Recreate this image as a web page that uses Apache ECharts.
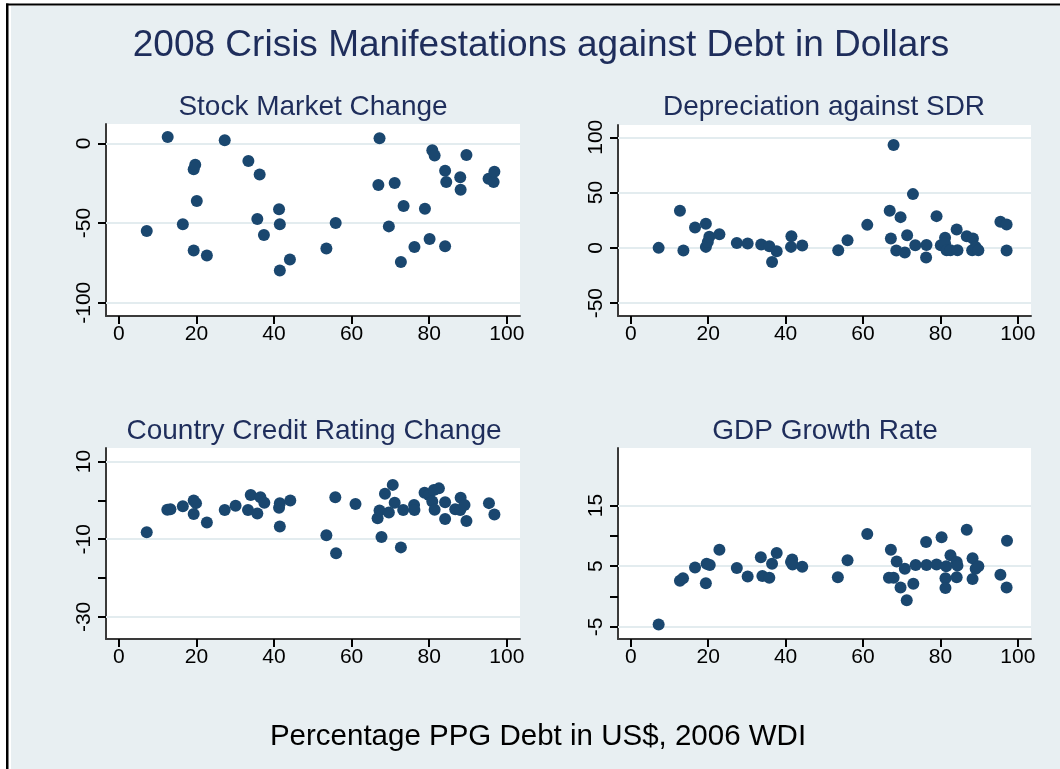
<!DOCTYPE html>
<html>
<head>
<meta charset="utf-8">
<script src="https://cdn.jsdelivr.net/npm/echarts@6/dist/echarts.min.js"></script>
<style>html,body{margin:0;padding:0;background:#fff;}#main{width:1060px;height:769px;}</style>
</head>
<body>
<div id="main"></div>
<script>
// ---- Data (x = Percentage PPG Debt in US$, 2006 WDI) ----
const stockMarket = [
  [7.2,-55.0],[12.6,4.0],[16.5,-50.8],[19.3,-16.3],[19.7,-13.4],[19.3,-67.2],[20.1,-36.2],
  [22.7,-70.3],[27.3,1.9],[33.4,-11.1],[35.7,-47.5],[36.3,-19.5],[37.4,-57.5],[41.3,-41.4],
  [41.5,-50.8],[41.5,-79.7],[44.1,-72.8],[53.5,-65.9],[55.9,-50.0],[67.2,3.1],[66.9,-26.2],
  [71.1,-24.9],[69.6,-52.1],[72.7,-74.5],[73.4,-39.3],[76.2,-65.1],[78.9,-41.0],[80.1,-60.0],
  [80.8,-4.4],[81.4,-7.7],[84.1,-17.2],[84.4,-24.3],[84.1,-64.6],[88.0,-21.3],[88.1,-29.1],
  [89.6,-7.3],[95.3,-22.2],[96.6,-24.3],[96.8,-17.8]
];
const depreciation = [
  [7.2,0.0],[12.7,33.5],[13.6,-2.4],[16.6,18.4],[19.4,21.8],[19.4,0.9],[19.9,5.4],[20.3,10.0],
  [22.9,12.4],[27.4,4.5],[30.2,3.9],[33.7,3.0],[35.8,1.5],[36.5,-12.7],[37.7,-3.0],[41.5,10.6],
  [41.4,0.9],[44.3,2.1],[53.6,-2.1],[56.0,6.9],[61.1,20.8],[66.9,33.5],[67.2,8.5],[67.9,93.1],
  [68.6,-2.4],[69.7,27.8],[70.8,-4.2],[71.4,11.5],[72.9,48.6],[73.5,2.4],[76.3,-8.8],[76.4,2.7],
  [79.0,28.7],[80.1,2.4],[81.2,9.1],[81.2,3.9],[81.6,-2.1],[82.6,-2.1],[84.2,16.6],[84.4,-2.1],
  [86.8,10.6],[88.4,8.5],[88.2,-2.1],[89.1,0.9],[89.8,-2.1],[95.5,23.6],[97.1,21.1],[97.1,-2.4]
];
const creditRating = [
  [7.2,-8.2],[12.5,-2.4],[13.3,-2.3],[16.5,-1.5],[19.3,0.0],[19.9,-0.7],[19.3,-3.5],[22.7,-5.7],
  [27.3,-2.5],[30.1,-1.4],[33.3,-2.5],[34.0,1.4],[35.7,-3.4],[36.5,0.8],[37.5,-0.6],[41.3,-1.9],
  [41.5,-0.7],[41.5,-6.7],[44.2,0.0],[53.5,-9.0],[55.8,0.8],[56.0,-13.6],[61.0,-0.9],[66.7,-4.6],
  [67.2,-2.6],[67.7,-9.4],[68.6,1.7],[69.6,-3.1],[70.6,4.0],[71.1,-0.6],[72.7,-12.1],[73.3,-2.5],
  [76.1,-1.2],[76.2,-2.5],[78.8,2.0],[79.9,1.4],[80.8,-0.3],[81.2,2.7],[81.4,-2.4],[82.5,3.1],
  [84.1,-0.5],[84.1,-4.8],[86.7,-2.3],[88.1,0.7],[88.0,-2.5],[89.1,-1.2],[89.6,-5.3],[95.4,-0.7],
  [96.8,-3.6]
];
const gdpGrowth = [
  [7.2,-4.6],[12.7,2.6],[13.5,3.0],[16.6,4.8],[19.4,2.2],[19.6,5.4],[20.4,5.2],[22.9,7.7],
  [27.4,4.7],[30.2,3.3],[33.6,6.5],[34.0,3.4],[35.8,3.1],[36.5,5.4],[37.7,7.2],[41.4,5.7],
  [41.7,6.1],[41.8,5.3],[44.3,4.9],[53.5,3.2],[56.0,6.0],[61.1,10.3],[66.7,3.1],[67.9,3.1],
  [67.2,7.7],[68.7,5.8],[69.7,1.5],[70.8,4.6],[71.3,-0.6],[73.0,2.1],[73.6,5.2],[76.3,9.0],
  [76.4,5.2],[79.0,5.3],[80.3,9.8],[81.5,5.0],[81.3,3.0],[81.3,1.4],[82.6,6.8],[84.2,5.7],
  [84.4,5.1],[84.2,3.2],[86.8,11.0],[88.3,6.3],[88.3,2.9],[89.1,4.6],[89.8,5.0],[95.5,3.6],
  [97.1,1.5],[97.2,9.2]
];
const panelTitles = ['Stock Market Change','Depreciation against SDR','Country Credit Rating Change','GDP Growth Rate'];
const mainTitle = '2008 Crisis Manifestations against Debt in Dollars';
const xAxisTitle = 'Percentage PPG Debt in US$, 2006 WDI';
const xTicks = [0,20,40,60,80,100];
const yLabelTicks = [[0,-50,-100],[100,50,0,-50],[10,-10,-30],[15,5,-5]];
const yAllTicks = [[0,-50,-100],[100,50,0,-50],[10,0,-10,-20,-30],[15,10,5,0,-5]];
const yRanges = [[-108.3,12.1],[-61.6,111.1],[-35.7,13.5],[-7.0,24.5]];
const panelData = [stockMarket, depreciation, creditRating, gdpGrowth];

// ---- Layout ----
const NAVY = '#1a476f';
const TITLE = '#1e2d5b';
const BG = '#e8eff2';
const GRIDC = '#e3ecef';
const FONT = '"Liberation Sans", Arial, Helvetica, sans-serif';
const grids = [
  {left:106, top:124, width:414, height:192},
  {left:618, top:125, width:413, height:191},
  {left:106, top:448, width:414, height:191},
  {left:618, top:448, width:413, height:191}
];
const titleCenters = [[313,93],[824,93],[314,417],[825,417]];

const option = {
  animation: false,
  backgroundColor: '#ffffff',
  textStyle: {fontFamily: FONT},
  graphic: [
    {type:'rect', z:-100, silent:true, shape:{x:11, y:6, width:1049, height:763}, style:{fill:BG}},
    {type:'rect', z:-99, silent:true, shape:{x:6, y:3.5, width:1054, height:2}, style:{fill:'#000'}},
    {type:'rect', z:-99, silent:true, shape:{x:6, y:3.5, width:2.5, height:766}, style:{fill:'#000'}}
  ],
  title: [
    {text: mainTitle, left: 541, top: 27, textAlign: 'center', padding: 0,
     textStyle:{fontSize:37, fontWeight:'normal', color:TITLE, fontFamily:FONT}},
    ...panelTitles.map((t,i)=>({text:t, left:titleCenters[i][0], top:titleCenters[i][1], textAlign:'center', padding:0,
     textStyle:{fontSize:28, fontWeight:'normal', color:TITLE, fontFamily:FONT}})),
    {text: xAxisTitle, left: 538, top: 722, textAlign: 'center', padding: 0,
     textStyle:{fontSize:29.5, fontWeight:'normal', color:'#000', fontFamily:FONT}}
  ],
  grid: grids.map(g=>Object.assign({show:true, backgroundColor:'#ffffff', borderWidth:0, containLabel:false}, g)),
  xAxis: grids.map((g,i)=>({
    type:'value', gridIndex:i, min:-3.3, max:103.4,
    axisLine:{show:true, onZero:false, lineStyle:{color:'#3a3a3a', width:2}},
    axisTick:{show:true, length:8, customValues:xTicks, lineStyle:{color:'#000', width:2}},
    axisLabel:{show:true, margin:8, customValues:xTicks, fontSize:21, color:'#000', fontFamily:FONT},
    splitLine:{show:false}
  })),
  yAxis: grids.map((g,i)=>({
    type:'value', gridIndex:i, min:yRanges[i][0], max:yRanges[i][1],
    axisLine:{show:true, onZero:false, lineStyle:{color:'#3a3a3a', width:2}},
    axisTick:{show:true, length:8, customValues:yAllTicks[i], lineStyle:{color:'#000', width:2}},
    axisLabel:{show:true, margin:11, rotate:90, customValues:yLabelTicks[i], fontSize:21, color:'#000', fontFamily:FONT},
    splitLine:{show:false}
  })),
  series: panelData.map((d,i)=>({
    type:'scatter', xAxisIndex:i, yAxisIndex:i, data:d, symbol:'circle', symbolSize:12,
    itemStyle:{color:NAVY, opacity:1}, z:2,
    markLine:{silent:true, z:1, symbol:['none','none'], label:{show:false},
      lineStyle:{color:GRIDC, width:2, type:'solid'}, emphasis:{disabled:true},
      data: yLabelTicks[i].map(v=>({yAxis:v}))}
  }))
};
const chart = echarts.init(document.getElementById('main'), null, {renderer:'canvas'});
chart.setOption(option);
</script>
</body>
</html>
